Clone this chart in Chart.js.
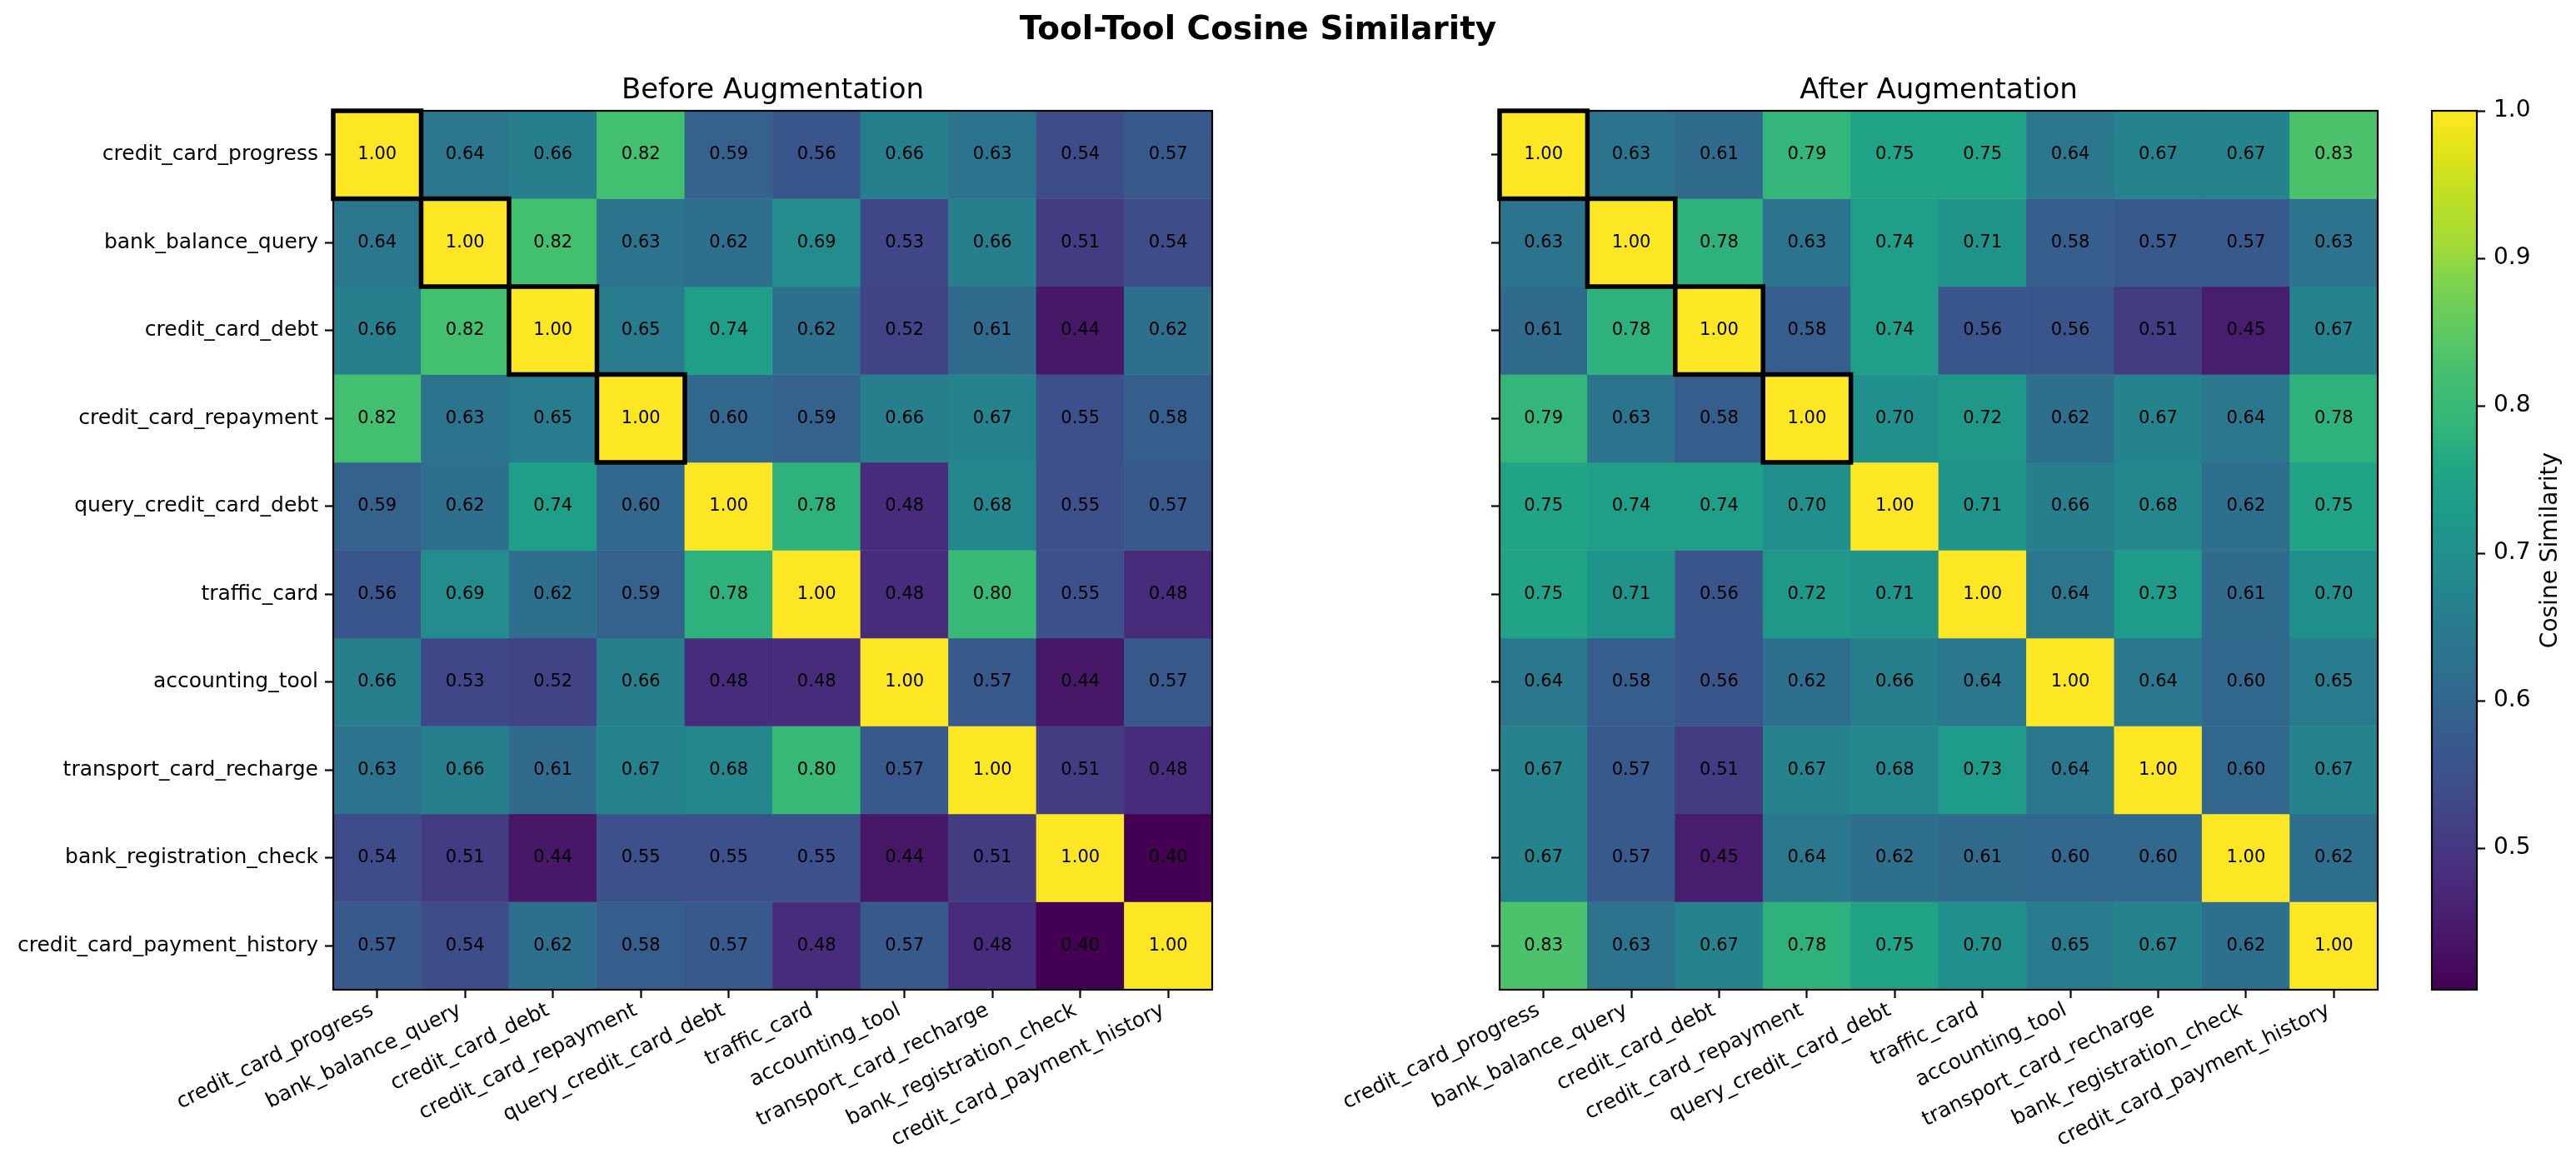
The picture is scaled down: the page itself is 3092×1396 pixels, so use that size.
<!DOCTYPE html>
<html lang="en">
<head>
    <meta charset="UTF-8">
    <title>Tool-Tool Cosine Similarity</title>
    <script src="https://cdn.jsdelivr.net/npm/chart.js"></script>
    <style>
        body { margin: 0; background: #fff; }
        #wrap { position: relative; width: 3092px; height: 1396px; background: #fff; }
        canvas { position: absolute; top: 0; }
        #suptitle {
            position: absolute; left: 0; top: 10px; width: 3020px; text-align: center;
            font: bold 39px 'DejaVu Sans'; line-height: 48px; color: #000;
        }
    </style>
</head>
<body>
<div id="wrap">
    <canvas id="beforeChart" width="1480" height="1396" style="left:0"></canvas>
    <canvas id="afterChart" width="1380" height="1396" style="left:1500px"></canvas>
    <canvas id="barChart" width="212" height="1396" style="left:2880px"></canvas>
    <div id="suptitle">Tool-Tool Cosine Similarity</div>
</div>

<script>
    // Tool names (rows and columns share the same order)
    const tools = [
        'credit_card_progress', 'bank_balance_query', 'credit_card_debt', 'credit_card_repayment',
        'query_credit_card_debt', 'traffic_card', 'accounting_tool', 'transport_card_recharge',
        'bank_registration_check', 'credit_card_payment_history'
    ];

    const beforeMatrix = [
        [1.00, 0.64, 0.66, 0.82, 0.59, 0.56, 0.66, 0.63, 0.54, 0.57],
        [0.64, 1.00, 0.82, 0.63, 0.62, 0.69, 0.53, 0.66, 0.51, 0.54],
        [0.66, 0.82, 1.00, 0.65, 0.74, 0.62, 0.52, 0.61, 0.44, 0.62],
        [0.82, 0.63, 0.65, 1.00, 0.60, 0.59, 0.66, 0.67, 0.55, 0.58],
        [0.59, 0.62, 0.74, 0.60, 1.00, 0.78, 0.48, 0.68, 0.55, 0.57],
        [0.56, 0.69, 0.62, 0.59, 0.78, 1.00, 0.48, 0.80, 0.55, 0.48],
        [0.66, 0.53, 0.52, 0.66, 0.48, 0.48, 1.00, 0.57, 0.44, 0.57],
        [0.63, 0.66, 0.61, 0.67, 0.68, 0.80, 0.57, 1.00, 0.51, 0.48],
        [0.54, 0.51, 0.44, 0.55, 0.55, 0.55, 0.44, 0.51, 1.00, 0.40],
        [0.57, 0.54, 0.62, 0.58, 0.57, 0.48, 0.57, 0.48, 0.40, 1.00]
    ];

    const afterMatrix = [
        [1.00, 0.63, 0.61, 0.79, 0.75, 0.75, 0.64, 0.67, 0.67, 0.83],
        [0.63, 1.00, 0.78, 0.63, 0.74, 0.71, 0.58, 0.57, 0.57, 0.63],
        [0.61, 0.78, 1.00, 0.58, 0.74, 0.56, 0.56, 0.51, 0.45, 0.67],
        [0.79, 0.63, 0.58, 1.00, 0.70, 0.72, 0.62, 0.67, 0.64, 0.78],
        [0.75, 0.74, 0.74, 0.70, 1.00, 0.71, 0.66, 0.68, 0.62, 0.75],
        [0.75, 0.71, 0.56, 0.72, 0.71, 1.00, 0.64, 0.73, 0.61, 0.70],
        [0.64, 0.58, 0.56, 0.62, 0.66, 0.64, 1.00, 0.64, 0.60, 0.65],
        [0.67, 0.57, 0.51, 0.67, 0.68, 0.73, 0.64, 1.00, 0.60, 0.67],
        [0.67, 0.57, 0.45, 0.64, 0.62, 0.61, 0.60, 0.60, 1.00, 0.62],
        [0.83, 0.63, 0.67, 0.78, 0.75, 0.70, 0.65, 0.67, 0.62, 1.00]
    ];

    // diagonal cells that get a thick black outline
    const highlighted = [0, 1, 2, 3];

    // colour scale range and colorbar ticks
    const vMin = 0.404;
    const vMax = 1.0;
    const colorbarTicks = [0.5, 0.6, 0.7, 0.8, 0.9, 1.0];

    // viridis samples at t = 0, 0.05, ..., 1
    const viridis = [
        '#440154', '#471365', '#482475', '#46337f', '#414487', '#3b528b', '#355f8d',
        '#2f6c8e', '#2a788e', '#25848e', '#21918c', '#1e9c89', '#22a884', '#35b779',
        '#44bf70', '#5ec962', '#7ad151', '#a5db36', '#bddf26', '#dfe318', '#fde725'
    ];

    function hexToRgb(h) {
        return [parseInt(h.slice(1, 3), 16), parseInt(h.slice(3, 5), 16), parseInt(h.slice(5, 7), 16)];
    }

    function colorFor(v) {
        let t = (v - vMin) / (vMax - vMin);
        t = Math.max(0, Math.min(1, t));
        const p = t * (viridis.length - 1);
        const i = Math.min(Math.floor(p), viridis.length - 2);
        const f = p - i;
        const a = hexToRgb(viridis[i]), b = hexToRgb(viridis[i + 1]);
        const c = a.map((x, k) => Math.round(x + (b[k] - x) * f));
        return `rgb(${c[0]}, ${c[1]}, ${c[2]})`;
    }

    Chart.defaults.font.family = "'DejaVu Sans'";
    Chart.defaults.color = '#000';

    // black frame round the plot area
    const framePlugin = {
        id: 'frame',
        afterDraw(chart) {
            const a = chart.chartArea;
            const ctx = chart.ctx;
            ctx.save();
            ctx.strokeStyle = '#000';
            ctx.lineWidth = 2.2;
            ctx.strokeRect(a.left, a.top, a.right - a.left, a.bottom - a.top);
            ctx.restore();
        }
    };

    // value text in every cell + outline of the highlighted diagonal cells
    function cellPlugin(matrix) {
        return {
            id: 'cells',
            afterDatasetsDraw(chart) {
                const ctx = chart.ctx;
                ctx.save();
                ctx.font = "21px 'DejaVu Sans'";
                ctx.fillStyle = '#000';
                ctx.textAlign = 'center';
                ctx.textBaseline = 'middle';
                matrix.forEach((row, r) => {
                    const meta = chart.getDatasetMeta(r);
                    row.forEach((v, c) => {
                        const el = meta.data[c];
                        ctx.fillText(v.toFixed(2), el.x, (el.y + el.base) / 2);
                    });
                });
                ctx.strokeStyle = '#000';
                ctx.lineWidth = 5.5;
                highlighted.forEach(i => {
                    const el = chart.getDatasetMeta(i).data[i];
                    const top = Math.min(el.y, el.base), h = Math.abs(el.base - el.y);
                    ctx.strokeRect(el.x - el.width / 2, top, el.width, h);
                });
                ctx.restore();
            }
        };
    }

    function heatmap(id, matrix, title, showLabels, yAxisWidth, rightPad) {
        const datasets = matrix.map((row, r) => ({
            data: row.map(() => [r - 0.5, r + 0.5]),
            backgroundColor: row.map(colorFor),
            borderWidth: 0,
            barPercentage: 1,
            categoryPercentage: 1,
            grouped: false
        }));
        return new Chart(document.getElementById(id), {
            type: 'bar',
            data: { labels: tools, datasets: datasets },
            options: {
                responsive: false,
                animation: false,
                devicePixelRatio: 1,
                layout: { padding: { left: 0, right: rightPad, top: 0, bottom: 0 } },
                plugins: {
                    legend: { display: false },
                    tooltip: { enabled: false },
                    title: {
                        display: true,
                        fullSize: false,
                        text: title,
                        font: { size: 34, weight: 'normal' },
                        padding: { top: 89, bottom: 3.2 }
                    }
                },
                scales: {
                    x: {
                        type: 'category',
                        offset: true,
                        border: { display: false },
                        grid: { offset: false, drawOnChartArea: false, tickLength: 10, tickWidth: 2.2, tickColor: '#000' },
                        ticks: {
                            autoSkip: false, minRotation: 26, maxRotation: 26,
                            padding: 0, labelOffset: -6, font: { size: 25 }
                        },
                        afterFit: s => { s.height = 208; }
                    },
                    y: {
                        type: 'linear',
                        min: -0.5,
                        max: 9.5,
                        reverse: true,
                        border: { display: false },
                        grid: { drawOnChartArea: false, tickLength: 10, tickWidth: 2.2, tickColor: '#000' },
                        afterBuildTicks: s => { s.ticks = tools.map((_, i) => ({ value: i })); },
                        ticks: {
                            padding: 8,
                            font: { size: 25 },
                            callback: v => showLabels ? tools[v] : ''
                        },
                        afterFit: s => { s.width = yAxisWidth; }
                    }
                }
            },
            plugins: [cellPlugin(matrix), framePlugin]
        });
    }

    heatmap('beforeChart', beforeMatrix, 'Before Augmentation', true, 400, 25);
    heatmap('afterChart', afterMatrix, 'After Augmentation', false, 300, 26);

    // colorbar
    const colorbarLabel = {
        id: 'cbLabel',
        afterDraw(chart) {
            const ctx = chart.ctx;
            const a = chart.chartArea;
            ctx.save();
            ctx.translate(182, (a.top + a.bottom) / 2);
            ctx.rotate(-Math.PI / 2);
            ctx.font = "28px 'DejaVu Sans'";
            ctx.fillStyle = '#000';
            ctx.textAlign = 'center';
            ctx.textBaseline = 'middle';
            ctx.fillText('Cosine Similarity', 0, 0);
            ctx.restore();
        }
    };

    new Chart(document.getElementById('barChart'), {
        type: 'bar',
        data: {
            labels: ['cb'],
            datasets: [{
                data: [[vMin, vMax]],
                barPercentage: 1,
                categoryPercentage: 1,
                borderWidth: 0,
                backgroundColor: ctx => {
                    const area = ctx.chart.chartArea;
                    if (!area) return viridis[10];
                    const g = ctx.chart.ctx.createLinearGradient(0, area.bottom, 0, area.top);
                    viridis.forEach((c, i) => g.addColorStop(i / (viridis.length - 1), c));
                    return g;
                }
            }]
        },
        options: {
            responsive: false,
            animation: false,
            devicePixelRatio: 1,
            layout: { padding: { left: 39, right: 0, top: 133, bottom: 208 } },
            plugins: { legend: { display: false }, tooltip: { enabled: false } },
            scales: {
                x: { display: false },
                y: {
                    type: 'linear',
                    position: 'right',
                    min: vMin,
                    max: vMax,
                    border: { display: false },
                    grid: { drawOnChartArea: false, tickLength: 10, tickWidth: 2.2, tickColor: '#000' },
                    afterBuildTicks: s => { s.ticks = colorbarTicks.map(v => ({ value: v })); },
                    ticks: { padding: 10, font: { size: 28 }, callback: v => v.toFixed(1) },
                    afterFit: s => { s.width = 119; }
                }
            }
        },
        plugins: [framePlugin, colorbarLabel]
    });
</script>
</body>
</html>
